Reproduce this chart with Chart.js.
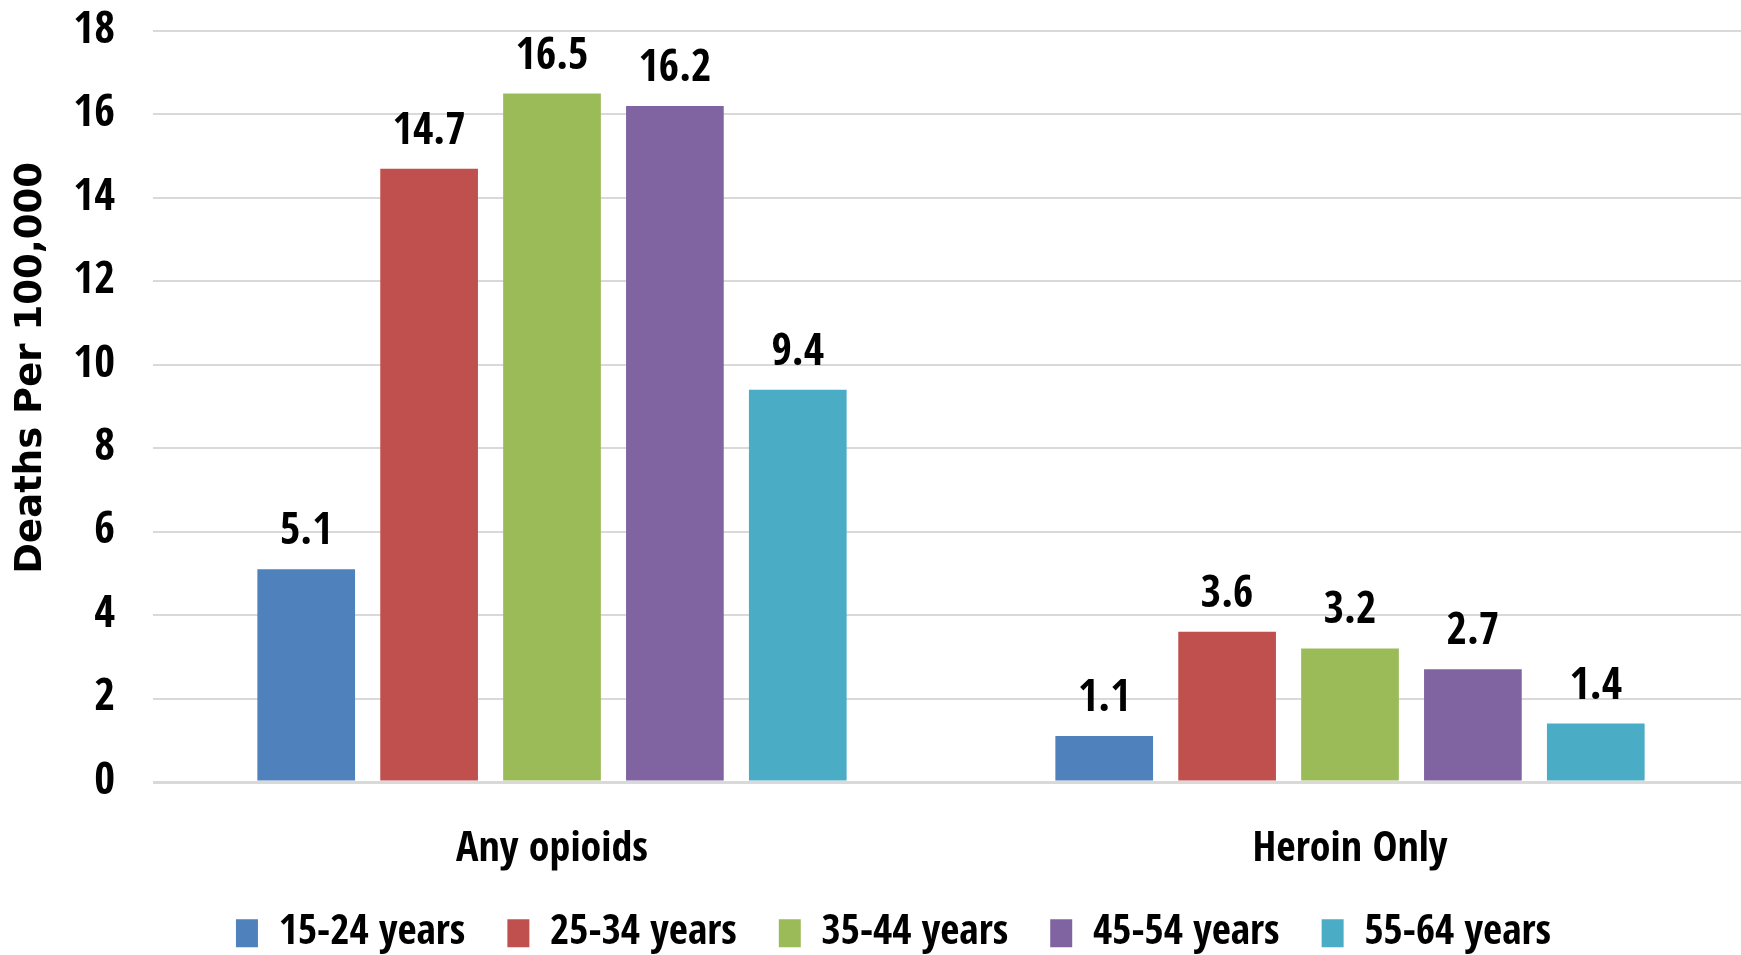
<!DOCTYPE html>
<html>
<head>
<meta charset="utf-8">
<script src="https://cdn.jsdelivr.net/npm/chart.js@4.4.1/dist/chart.umd.min.js"></script>
<style>
  html, body { margin: 0; background: #fff; overflow: hidden; }
  #wrap { width: 1749px; height: 955px; }
</style>
</head>
<body>
<div id="wrap"><canvas id="myChart"></canvas></div>
<script>
const categories = ["Any opioids", "Heroin Only"];
const ageGroups = ["15-24 years", "25-34 years", "35-44 years", "45-54 years", "55-64 years"];
const age15to24 = [5.1, 1.1];
const age25to34 = [14.7, 3.6];
const age35to44 = [16.5, 3.2];
const age45to54 = [16.2, 2.7];
const age55to64 = [9.4, 1.4];
const yTicks = [0, 2, 4, 6, 8, 10, 12, 14, 16, 18];

const colors = ["#4F81BD", "#C0504D", "#9BBB59", "#8064A2", "#4BACC6"];
const narrow = "'Open Sans Condensed', 'Roboto Condensed', 'DejaVu Sans Condensed', sans-serif";

const seriesValues = [age15to24, age25to34, age35to44, age45to54, age55to64];

// value labels above bars
const barLabels = {
  id: "barLabels",
  afterDatasetsDraw(chart) {
    const ctx = chart.ctx;
    ctx.save();
    ctx.font = "bold 44px " + narrow;
    ctx.fillStyle = "#000";
    ctx.textAlign = "center";
    ctx.textBaseline = "alphabetic";
    chart.data.datasets.forEach((ds, i) => {
      chart.getDatasetMeta(i).data.forEach((bar, j) => {
        ctx.fillText(ds.data[j].toFixed(1), bar.x, bar.y - 25);
      });
    });
    ctx.restore();
  }
};

let myChart = new Chart(document.getElementById("myChart").getContext("2d"), {
  type: "bar",
  data: {
    labels: categories,
    datasets: ageGroups.map((name, i) => ({
      label: name,
      data: seriesValues[i],
      backgroundColor: colors[i],
      categoryPercentage: 0.77,
      barPercentage: 0.795
    }))
  },
  options: {
    responsive: true,
    maintainAspectRatio: false,
    animation: false,
    layout: { padding: { left: 38, right: 0, top: 31, bottom: -9 } },
    plugins: {
      legend: {
        position: "bottom",
        labels: {
          boxWidth: 22,
          boxHeight: 28,
          padding: 42,
          color: "#000",
          font: { family: narrow, size: 41.5, weight: "bold" }
        }
      },
      tooltip: { enabled: false }
    },
    scales: {
      x: {
        grid: { display: false, drawTicks: false },
        border: { display: false },
        ticks: {
          color: "#000",
          padding: 43,
          font: { family: narrow, size: 42, weight: "bold" }
        },
        afterFit: (axis) => { axis.height = 88.5; }
      },
      y: {
        min: 0,
        max: 18,
        afterBuildTicks: (axis) => { axis.ticks = yTicks.map(v => ({ value: v })); },
        afterFit: (axis) => {
          axis.width = 115;
          axis.paddingTop = 0;
          axis.paddingBottom = 0;
        },
        border: { display: false },
        grid: {
          color: "#d9d9d9",
          lineWidth: (c) => c.tick && c.tick.value === 0 ? 3 : 2,
          drawTicks: false
        },
        ticks: {
          color: "#000",
          padding: 38,
          font: { family: narrow, size: 45, weight: "bold" }
        },
        title: {
          display: true,
          text: "      Deaths Per 100,000",
          color: "#000",
          padding: { top: -28.7, bottom: 0 },
          font: { family: "'DejaVu Sans', sans-serif", size: 37, weight: "bold" }
        }
      }
    }
  },
  plugins: [barLabels]
});
</script>
</body>
</html>
